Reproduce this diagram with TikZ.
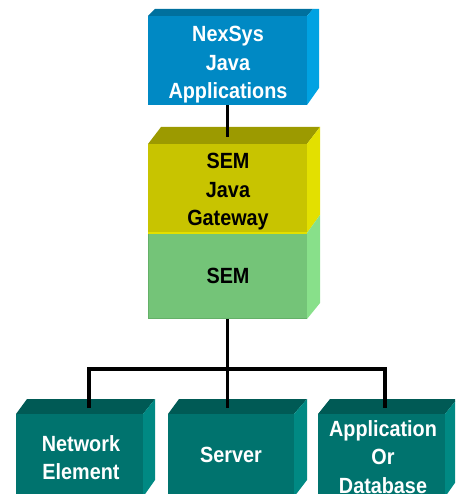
\documentclass[tikz,border=0pt]{standalone}
\usepackage{fontspec}
\newfontfamily\lab{Liberation Sans}[FakeStretch=0.9]
\definecolor{bluefront}{RGB}{0,137,196}
\definecolor{bluetop}{RGB}{0,112,158}
\definecolor{blueside}{RGB}{0,162,226}
\definecolor{yelfront}{RGB}{200,196,0}
\definecolor{yeltop}{RGB}{156,154,0}
\definecolor{yelside}{RGB}{227,224,0}
\definecolor{grnfront}{RGB}{116,196,120}
\definecolor{grnside}{RGB}{136,224,138}
\definecolor{grnedge}{RGB}{100,176,104}
\definecolor{tealfront}{RGB}{0,115,110}
\definecolor{tealtop}{RGB}{0,90,85}
\definecolor{tealside}{RGB}{0,137,131}
\begin{document}
\begin{tikzpicture}[x=1pt,y=-1pt,
  face/.style={rectangle,inner sep=0pt,draw=none},
  lbl/.style={inner sep=0pt,anchor=north,align=center,
    font=\lab\bfseries\fontsize{22}{28.5}\selectfont},
  wire/.style={line width=3.2pt,draw=black}]
\useasboundingbox (0,0) rectangle (455,494);
\clip (0,0) rectangle (455,494);

% --- NexSys box
\fill[bluetop] (148,16) -- (155,9) -- (313,9) -- (307,16) -- cycle;
\fill[blueside] (307,16) -- (313,9) -- (319,9) -- (319,88) -- (307,105) -- cycle;
\node[face,fill=bluefront,minimum width=159pt,minimum height=89pt] (nexsys) at (227.5,60.5) {};
\node[lbl,text=white] (nexsystxt) at (228,26) {NexSys\\Java\\Applications};

% --- SEM Java Gateway box
\fill[yeltop] (148,144) -- (161,127) -- (320,127) -- (307,144) -- cycle;
\fill[yelside] (307,144) -- (320,127) -- (320,215) -- (307,233) -- cycle;
\node[face,fill=yelfront,minimum width=159pt,minimum height=89pt] (gateway) at (227.5,188.5) {};
\node[lbl,text=black] (gatewaytxt) at (228,153) {SEM\\Java\\Gateway};

% --- SEM box
\fill[grnside] (307,233) -- (320,215) -- (320,303) -- (307,319) -- cycle;
\node[face,fill=grnfront,minimum width=159pt,minimum height=86pt] (sem) at (227.5,276) {};
\draw[grnedge,line width=1pt] (148.5,233) -- (148.5,318.5) -- (307,318.5);
\draw[yelside,line width=1.2pt] (148,233) -- (307,233);
\node[lbl,text=black] (semtxt) at (228,268) {SEM};

% --- bottom boxes
\fill[tealtop] (16,414) -- (27,399) -- (155,399) -- (143,414) -- cycle;
\fill[tealside] (143,414) -- (155,399) -- (155,480) -- (143,497) -- cycle;
\node[face,fill=tealfront,minimum width=127pt,minimum height=84pt] (ne) at (79.5,456) {};
\node[lbl,text=white] (netxt) at (81,435) {Network\\Element};

\fill[tealtop] (168,414) -- (179,399) -- (307,399) -- (294,414) -- cycle;
\fill[tealside] (294,414) -- (307,399) -- (307,480) -- (294,497) -- cycle;
\node[face,fill=tealfront,minimum width=126pt,minimum height=84pt] (server) at (231,456) {};
\node[lbl,text=white] (servertxt) at (231,447) {Server};

\fill[tealtop] (318,414) -- (330,399) -- (457,399) -- (445,414) -- cycle;
\fill[tealside] (445,414) -- (457,399) -- (457,480) -- (445,497) -- cycle;
\node[face,fill=tealfront,minimum width=127pt,minimum height=84pt] (appdb) at (381.5,456) {};
\node[lbl,text=white] (appdbtxt) at (383,420) {Application\\Or\\Database};

% --- connectors
\coordinate (gwtop) at (227.5,137);
\coordinate (bus) at (227.5,369);
\coordinate (t1) at (89,408);
\coordinate (t2) at (227.5,408);
\coordinate (t3) at (385,408);
\draw[wire] (nexsys.south) -- (gwtop);
\draw[wire] (sem.south) -- (t2);
\draw[wire] (t1) |- (bus) -| (t3);
\end{tikzpicture}
\end{document}
